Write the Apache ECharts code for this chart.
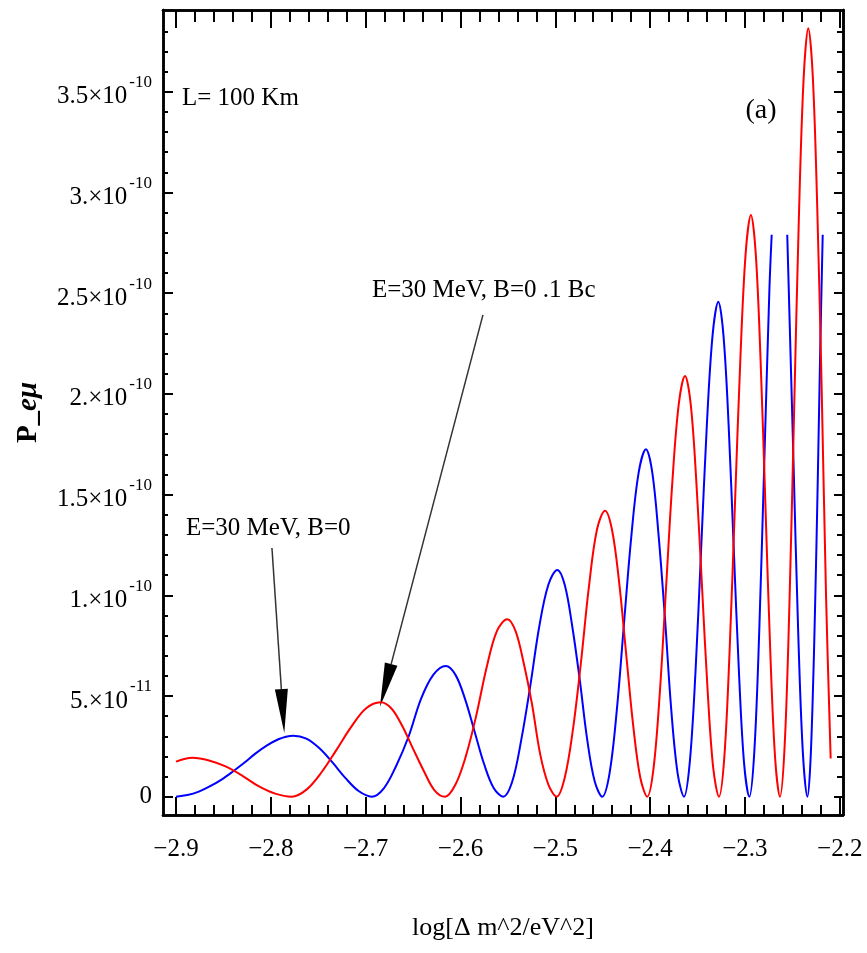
<!DOCTYPE html>
<html>
<head>
<meta charset="utf-8">
<title>P_eμ vs log[Δ m^2/eV^2]</title>
<script src="https://cdn.jsdelivr.net/npm/echarts@6/dist/echarts.min.js"></script>
<style>
  html, body { margin: 0; padding: 0; background: #fff; }
  #chart { width: 867px; height: 953px; }
</style>
</head>
<body>
<div id="chart"></div>
<script>
// values (y in units of 1e-11, see Y_UNIT)
// E=30 MeV, B=0 (blue); the blue curve is clipped at ~2.79e-10, null = gap
const blueX = [
  -2.9000, -2.8880, -2.8760, -2.8640, -2.8520, -2.8400, -2.8280, -2.8160, -2.8040, -2.7920, -2.7840, -2.7763,
  -2.7625, -2.7487, -2.7350, -2.7212, -2.7074, -2.6936,
  -2.6806, -2.6676, -2.6546, -2.6415, -2.6285, -2.6155,
  -2.6054, -2.5953, -2.5852, -2.5751, -2.5650, -2.5549,
  -2.5454, -2.5359, -2.5264, -2.5169, -2.5074, -2.4979,
  -2.4900, -2.4821, -2.4742, -2.4663, -2.4584, -2.4505,
  -2.4428, -2.4351, -2.4275, -2.4198, -2.4121, -2.4044,
  -2.3977, -2.3910, -2.3844, -2.3777, -2.3710, -2.3643,
  -2.3583, -2.3522, -2.3462, -2.3402, -2.3341, -2.3281,
  -2.3227, -2.3172, -2.3118, -2.3063, -2.3009, -2.2954,
  -2.2901, -2.2848, -2.2795, -2.2742, -2.2718, -2.2636,
  -2.2554, -2.2538, -2.2489, -2.2440, -2.2390, -2.2341,
  -2.2314, -2.2287, -2.2260, -2.2233, -2.2207, -2.2180];
const blueY = [
  0, 0.08, 0.25, 0.52, 0.85, 1.25, 1.68, 2.15, 2.55, 2.85, 2.98, 3.03,
  2.88, 2.40, 1.70, 0.92, 0.28, 0,
  0.43, 1.55, 3.0, 4.87, 6.06, 6.49,
  6.06, 4.87, 3.25, 1.62, 0.43, 0,
  0.75, 2.82, 5.5, 8.45, 10.51, 11.26,
  10.51, 8.45, 5.8, 2.82, 0.75, 0,
  1.16, 4.31, 8.63, 12.94, 16.09, 17.25,
  16.09, 12.94, 8.9, 4.31, 1.16, 0,
  1.65, 6.15, 12.29, 18.44, 22.93, 24.58,
  22.93, 18.44, 12.29, 6.15, 1.65, 0,
  2.25, 8.4, 16.8, 25.2, 27.9, null,
  27.9, 25.2, 16.8, 8.4, 2.25, 0,
  1.3, 4.6, 9.5, 15.5, 22.0, 27.9];

// E=30 MeV, B=0.1 Bc (red)
const redX = [
  -2.9000, -2.8913, -2.8826,
  -2.8652, -2.8477, -2.8303, -2.8129, -2.7954, -2.7780,
  -2.7624, -2.7467, -2.7311, -2.7154, -2.6998, -2.6841,
  -2.6728, -2.6615, -2.6502, -2.6389, -2.6276, -2.6163,
  -2.6054, -2.5944, -2.5835, -2.5725, -2.5616, -2.5506,
  -2.5419, -2.5332, -2.5246, -2.5159, -2.5072, -2.4985,
  -2.4900, -2.4815, -2.4731, -2.4646, -2.4561, -2.4476,
  -2.4402, -2.4327, -2.4253, -2.4179, -2.4104, -2.4030,
  -2.3964, -2.3897, -2.3831, -2.3765, -2.3698, -2.3632,
  -2.3572, -2.3513, -2.3453, -2.3393, -2.3334, -2.3274,
  -2.3218, -2.3162, -2.3106, -2.3049, -2.2993, -2.2937,
  -2.2886, -2.2835, -2.2784, -2.2733, -2.2682, -2.2631,
  -2.2581, -2.2531, -2.2482, -2.2432, -2.2382, -2.2332,
  -2.2285, -2.2239, -2.2192, -2.2145, -2.2096];
const redY = [
  1.74, 1.87, 1.93,
  1.80, 1.50, 1.05, 0.52, 0.15, 0,
  0.35, 1.2, 2.3, 3.45, 4.38, 4.69,
  4.38, 3.52, 2.4, 1.3, 0.33, 0,
  0.59, 2.0, 4.0, 6.4, 8.22, 8.81,
  8.22, 6.61, 4.6, 2.1, 0.59, 0,
  0.95, 3.3, 6.6, 10.4, 13.25, 14.2,
  13.25, 10.65, 7.10, 3.55, 0.95, 0,
  1.40, 5.22, 10.45, 15.67, 19.49, 20.89,
  19.49, 15.67, 10.45, 5.22, 1.40, 0,
  1.93, 7.22, 14.44, 21.66, 26.95, 28.88,
  26.95, 21.66, 14.44, 7.22, 1.93, 0,
  2.56, 9.54, 19.08, 28.61, 35.59, 38.15,
  35.8, 29.5, 20.5, 10.0, 1.9];
const Y_UNIT = 1e-11;

// tick labels
const xMajor = [-2.9, -2.8, -2.7, -2.6, -2.5, -2.4, -2.3, -2.2];
const yMajor = [0, 5e-11, 1e-10, 1.5e-10, 2e-10, 2.5e-10, 3e-10, 3.5e-10];

// arrows: [from, to] in data units
const arrowB0 = [[-2.7988, 1.235e-10], [-2.7858, 3.16e-11]];
const arrowB01 = [[-2.5763, 2.392e-10], [-2.6849, 4.47e-11]];

const xMin = -2.9137, xMax = -2.1966;
const yMin = -0.91e-11, yMax = 3.906e-10;

// minor tick positions
const xMinor = [];
for (let k = 0; k <= 35; k++) { if (k % 5) xMinor.push(+(-2.9 + 0.02 * k).toFixed(2)); }
const yMinor = [];
for (let k = 1; k <= 38; k++) { if (k % 5) yMinor.push(k * 1e-11); }

const font = "'Liberation Serif', 'Times New Roman', serif";

function pairs(xs, ys) {
  return xs.map((x, i) => [x, ys[i] === null ? '-' : ys[i] * Y_UNIT]);
}

function xLabel(v) {
  return (v < 0 ? '\u2212' : '') + Math.abs(v).toFixed(1);
}

function yLabel(v) {
  if (Math.abs(v) < 1e-15) return '{m|0}';
  const e = v < 0.99e-10 ? -11 : -10;
  const m = v / Math.pow(10, e);
  const ms = Math.abs(m - Math.round(m)) < 1e-6 ? Math.round(m) + '.' : m.toFixed(1);
  return '{m|' + ms + '\u00d710}{e|' + e + '}';
}

function xAx(pos, ticks, len, withLabels) {
  const ax = {
    type: 'value', position: pos, min: xMin, max: xMax,
    axisLine: { show: true, onZero: false, lineStyle: { color: '#000', width: 2.5 } },
    axisTick: { show: true, inside: true, length: len, customValues: ticks, lineStyle: { color: '#000', width: 2 } },
    axisLabel: { show: false },
    splitLine: { show: false }
  };
  if (withLabels) {
    ax.axisLabel = {
      show: true, customValues: xMajor, formatter: xLabel, margin: 22,
      color: '#000', fontFamily: font, fontSize: 25
    };
    ax.name = 'log[\u0394 m^2/eV^2]';
    ax.nameLocation = 'middle';
    ax.nameGap = 100;
    ax.nameTextStyle = { color: '#000', fontFamily: font, fontSize: 26 };
  }
  return ax;
}

function yAx(pos, ticks, len, withLabels) {
  const ax = {
    type: 'value', position: pos, min: yMin, max: yMax,
    axisLine: { show: true, onZero: false, lineStyle: { color: '#000', width: 2.5 } },
    axisTick: { show: true, inside: true, length: len, customValues: ticks, lineStyle: { color: '#000', width: 2 } },
    axisLabel: { show: false },
    splitLine: { show: false }
  };
  if (withLabels) {
    ax.axisLabel = {
      show: true, customValues: yMajor, formatter: yLabel, margin: 11, color: '#000',
      rich: {
        m: { fontFamily: font, fontSize: 25, color: '#000', verticalAlign: 'bottom' },
        e: { fontFamily: font, fontSize: 17, color: '#000', padding: [0, 0, 18, 2] }
      }
    };
    ax.name = '{p|P_}{i|e\u03bc}';
    ax.nameLocation = 'middle';
    ax.nameRotate = 90;
    ax.nameGap = 120;
    ax.nameTextStyle = {
      color: '#000',
      rich: {
        p: { fontFamily: font, fontSize: 29, fontWeight: 'bold', color: '#000' },
        i: { fontFamily: font, fontSize: 29, fontWeight: 'bold', fontStyle: 'italic', color: '#000' }
      }
    };
  }
  return ax;
}

const chart = echarts.init(document.getElementById('chart'));

const option = {
  backgroundColor: '#fff',
  animation: false,
  grid: { left: 163, right: 24, top: 10, bottom: 138 },
  xAxis: [
    xAx('bottom', xMajor, 18, true),
    xAx('bottom', xMinor, 10, false),
    xAx('top', xMajor, 18, false),
    xAx('top', xMinor, 12, false)
  ],
  yAxis: [
    yAx('left', yMajor, 10, true),
    yAx('left', yMinor, 5, false),
    yAx('right', yMajor, 9, false),
    yAx('right', yMinor, 6, false)
  ],
  series: [
    {
      name: 'E=30 MeV, B=0',
      type: 'line', xAxisIndex: 0, yAxisIndex: 0,
      data: pairs(blueX, blueY),
      smooth: 0.35, showSymbol: false, connectNulls: false,
      lineStyle: { color: '#0000ff', width: 2 }
    },
    {
      name: 'E=30 MeV, B=0.1 Bc',
      type: 'line', xAxisIndex: 0, yAxisIndex: 0,
      data: pairs(redX, redY),
      smooth: 0.35, showSymbol: false,
      lineStyle: { color: '#ff0000', width: 2 }
    }
  ]
};
chart.setOption(option);

// annotations and arrows (arrow ends taken from data coords)
function arrow(ends) {
  const a = chart.convertToPixel({ seriesIndex: 0 }, ends[0]);
  const b = chart.convertToPixel({ seriesIndex: 0 }, ends[1]);
  const dx = b[0] - a[0], dy = b[1] - a[1];
  const d = Math.sqrt(dx * dx + dy * dy);
  const ux = dx / d, uy = dy / d;
  const L = 44, W = 6.5;
  const bx = b[0] - ux * L, by = b[1] - uy * L;
  return [
    { type: 'line', shape: { x1: a[0], y1: a[1], x2: bx, y2: by }, style: { stroke: '#333', lineWidth: 1.5 } },
    { type: 'polygon', shape: { points: [[b[0], b[1]], [bx - uy * W, by + ux * W], [bx + uy * W, by - ux * W]] },
      style: { fill: '#000' } }
  ];
}

function label(text, x, y, size, align) {
  return {
    type: 'text', x: x, y: y,
    style: { text: text, fontFamily: font, fontSize: size, fill: '#000', align: align || 'left', verticalAlign: 'middle' }
  };
}

chart.setOption({
  graphic: [
    label('L= 100 Km', 182, 98, 25),
    label('(a)', 761, 111, 28, 'center'),
    label('E=30 MeV, B=0 .1 Bc', 372, 290, 25),
    label('E=30 MeV, B=0', 186, 528, 25)
  ].concat(arrow(arrowB0), arrow(arrowB01))
});
</script>
</body>
</html>
